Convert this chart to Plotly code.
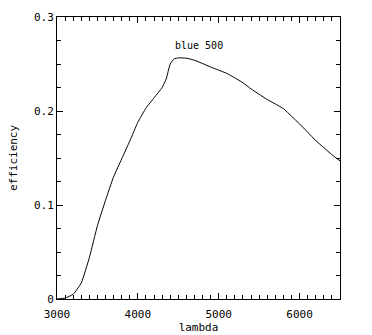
import plotly.graph_objects as go

# Filter throughput curve for the "blue 500" band
wavelength = [3000, 3100, 3200, 3300, 3400, 3500, 3600, 3700, 3800, 3900,
              4000, 4100, 4200, 4300, 4350, 4400, 4450, 4500, 4600, 4700,
              4800, 4900, 5000, 5100, 5200, 5300, 5400, 5500, 5600, 5700,
              5800, 5900, 6000, 6100, 6200, 6300, 6400, 6500]
efficiency = [0.000, 0.001, 0.005, 0.017, 0.044, 0.078, 0.105, 0.130, 0.149, 0.168,
              0.188, 0.203, 0.214, 0.225, 0.234, 0.250, 0.2555, 0.2565, 0.2562, 0.2540,
              0.2505, 0.2468, 0.2435, 0.2400, 0.2352, 0.2300, 0.2235, 0.2178, 0.2122, 0.2075,
              0.2025, 0.1945, 0.1862, 0.1775, 0.1685, 0.1610, 0.1535, 0.1470]

x_ticks = [3000, 4000, 5000, 6000]
x_ticklabels = ["3000", "4000", "5000", "6000"]
y_ticks = [0, 0.1, 0.2, 0.3]
y_ticklabels = ["0", "0.1", "0.2", "0.3"]

label_text = "blue 500"
label_pos = (4760, 0.2693)

FONT = "DejaVu Sans Mono"

fig = go.Figure()
fig.add_trace(go.Scatter(
    x=wavelength, y=efficiency, mode="lines",
    line=dict(color="black", width=1, shape="spline", smoothing=0.4),
    showlegend=False, hoverinfo="skip",
))

fig.add_annotation(
    x=label_pos[0], y=label_pos[1], text=label_text, showarrow=False,
    font=dict(family=FONT, size=10, color="black"),
)

axis_common = dict(
    showline=True, linecolor="black", linewidth=1, mirror="allticks",
    ticks="inside", tickcolor="black", tickwidth=1, ticklen=6,
    showgrid=False, zeroline=False, automargin=False,
    tickfont=dict(family=FONT, size=11, color="black"),
)

fig.update_xaxes(
    range=[3000, 6500], tickvals=x_ticks, ticktext=x_ticklabels,
    ticklabelstandoff=5,
    minor=dict(dtick=100, tick0=3000, ticks="inside", ticklen=4,
               tickcolor="black", tickwidth=1, showgrid=False),
    title=dict(text="lambda", font=dict(family=FONT, size=11, color="black"), standoff=2),
    **axis_common,
)
fig.update_yaxes(
    range=[0, 0.3], tickvals=y_ticks, ticktext=y_ticklabels,
    minor=dict(dtick=0.025, tick0=0, ticks="inside", ticklen=4,
               tickcolor="black", tickwidth=1, showgrid=False),
    title=dict(text="efficiency", font=dict(family=FONT, size=11, color="black"), standoff=14),
    **axis_common,
)

fig.update_layout(
    width=372, height=335,
    margin=dict(l=57, r=32, t=17, b=36),
    paper_bgcolor="white", plot_bgcolor="white",
)

fig.write_html("out.html")
